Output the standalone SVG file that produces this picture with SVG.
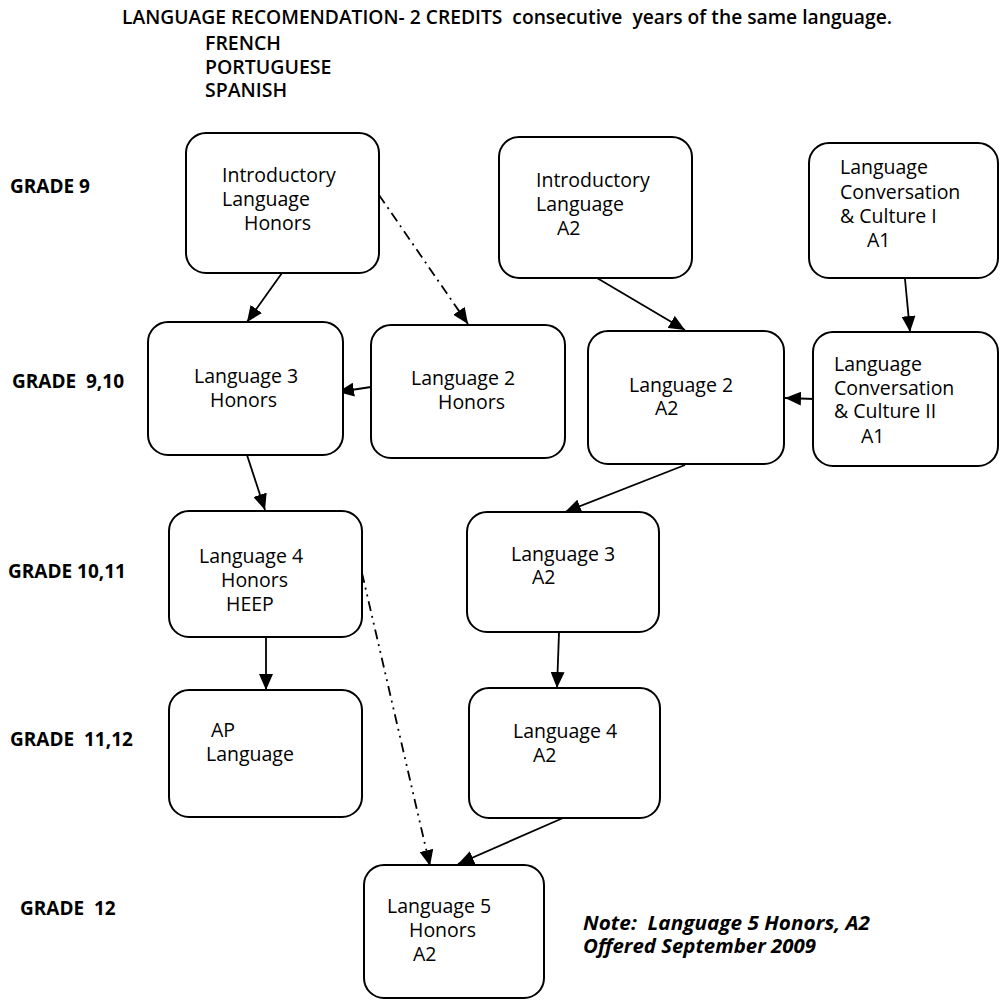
<svg xmlns="http://www.w3.org/2000/svg" width="1000" height="1000" viewBox="0 0 1000 1000">
<style>
.box{fill:#fff;stroke:#000;stroke-width:2}
.t{font-family:"Open Sans","DejaVu Sans",sans-serif;font-size:19.5px;fill:#000}
.g{font-family:"Open Sans","DejaVu Sans",sans-serif;font-size:19px;font-weight:700;fill:#000}
.h{font-family:"Open Sans","DejaVu Sans",sans-serif;font-size:19.5px;font-weight:600;fill:#000}
.n{font-family:"Open Sans","DejaVu Sans",sans-serif;font-size:19.5px;font-weight:700;font-style:italic;fill:#000}
.c{fill:none;stroke:#000;stroke-width:1.8}
.dd{stroke-dasharray:10,5,2,5}
.ddd{stroke-dasharray:10,5,2,5,2,5}
</style>
<defs>
<marker id="arr" markerUnits="userSpaceOnUse" markerWidth="16" markerHeight="14" refX="16" refY="7" orient="auto">
<path d="M0,0 L16,7 L0,14 z" fill="#000"/>
</marker>
</defs>
<rect width="1000" height="1000" fill="#fff"/>
<g id="header">
<text class="h" x="122" y="24" textLength="770" lengthAdjust="spacingAndGlyphs" xml:space="preserve">LANGUAGE RECOMENDATION- 2 CREDITS  consecutive  years of the same language.</text>
<text class="h" x="205" y="50">FRENCH</text>
<text class="h" x="205" y="74">PORTUGUESE</text>
<text class="h" x="205" y="97">SPANISH</text>
</g>
<g id="grades">
<text class="g" x="10" y="193">GRADE 9</text>
<text class="g" x="12" y="388" xml:space="preserve">GRADE  9,10</text>
<text class="g" x="8" y="578">GRADE 10,11</text>
<text class="g" x="10" y="746" xml:space="preserve">GRADE  11,12</text>
<text class="g" x="20" y="915" xml:space="preserve">GRADE  12</text>
</g>
<g id="connectors">
<line class="c" x1="282" y1="273" x2="247" y2="322" marker-end="url(#arr)"/>
<line class="c dd" x1="379" y1="195" x2="468" y2="324" marker-end="url(#arr)"/>
<line class="c" x1="371" y1="387" x2="338" y2="392" marker-end="url(#arr)"/>
<line class="c" x1="597" y1="278" x2="685" y2="330" marker-end="url(#arr)"/>
<line class="c" x1="905" y1="279" x2="910" y2="332" marker-end="url(#arr)"/>
<line class="c" x1="815" y1="399" x2="785" y2="398" marker-end="url(#arr)"/>
<line class="c" x1="685" y1="465" x2="565" y2="512" marker-end="url(#arr)"/>
<line class="c" x1="247" y1="455" x2="265" y2="510" marker-end="url(#arr)"/>
<line class="c" x1="266" y1="637" x2="266" y2="690" marker-end="url(#arr)"/>
<line class="c ddd" x1="362" y1="573" x2="430" y2="866" marker-end="url(#arr)"/>
<line class="c" x1="559" y1="633" x2="557" y2="688" marker-end="url(#arr)"/>
<line class="c" x1="563" y1="818" x2="458" y2="864" marker-end="url(#arr)"/>
</g>
<g id="intro-honors">
<rect class="box" x="186" y="133" width="193" height="140" rx="20"/>
<text class="t" x="222" y="182">Introductory</text>
<text class="t" x="222" y="206">Language</text>
<text class="t" x="244" y="230">Honors</text>
</g>
<g id="lang3-honors">
<rect class="box" x="148" y="322" width="195" height="133" rx="20"/>
<text class="t" x="194" y="383">Language 3</text>
<text class="t" x="210" y="407">Honors</text>
</g>
<g id="lang2-honors">
<rect class="box" x="371" y="325" width="194" height="133" rx="20"/>
<text class="t" x="411" y="385">Language 2</text>
<text class="t" x="438" y="409">Honors</text>
</g>
<g id="intro-a2">
<rect class="box" x="499" y="137" width="193" height="141" rx="20"/>
<text class="t" x="536" y="187">Introductory</text>
<text class="t" x="536" y="211">Language</text>
<text class="t" x="557" y="235">A2</text>
</g>
<g id="lcc1">
<rect class="box" x="809" y="143" width="189" height="135" rx="20"/>
<text class="t" x="840" y="174">Language</text>
<text class="t" x="840" y="199">Conversation</text>
<text class="t" x="840" y="223">&amp; Culture I</text>
<text class="t" x="867" y="247">A1</text>
</g>
<g id="lang2-a2">
<rect class="box" x="588" y="331" width="196" height="133" rx="20"/>
<text class="t" x="629" y="392">Language 2</text>
<text class="t" x="655" y="415">A2</text>
</g>
<g id="lcc2">
<rect class="box" x="813" y="332" width="185" height="134" rx="20"/>
<text class="t" x="834" y="371">Language</text>
<text class="t" x="834" y="395">Conversation</text>
<text class="t" x="834" y="418">&amp; Culture II</text>
<text class="t" x="861" y="443">A1</text>
</g>
<g id="lang4-honors">
<rect class="box" x="169" y="511" width="193" height="126" rx="20"/>
<text class="t" x="199" y="563">Language 4</text>
<text class="t" x="221" y="587">Honors</text>
<text class="t" x="226" y="611">HEEP</text>
</g>
<g id="lang3-a2">
<rect class="box" x="467" y="512" width="192" height="120" rx="20"/>
<text class="t" x="511" y="561">Language 3</text>
<text class="t" x="532" y="584">A2</text>
</g>
<g id="ap-language">
<rect class="box" x="169" y="690" width="193" height="127" rx="20"/>
<text class="t" x="211" y="737">AP</text>
<text class="t" x="206" y="761">Language</text>
</g>
<g id="lang4-a2">
<rect class="box" x="469" y="688" width="191" height="130" rx="20"/>
<text class="t" x="513" y="738">Language 4</text>
<text class="t" x="533" y="762">A2</text>
</g>
<g id="lang5">
<rect class="box" x="364" y="865" width="180" height="133" rx="20"/>
<text class="t" x="387" y="913">Language 5</text>
<text class="t" x="409" y="937">Honors</text>
<text class="t" x="413" y="961">A2</text>
</g>
<g id="note">
<text class="n" x="583" y="930" textLength="287" lengthAdjust="spacingAndGlyphs" xml:space="preserve">Note:  Language 5 Honors, A2</text>
<text class="n" x="583" y="953" textLength="233" lengthAdjust="spacingAndGlyphs">Offered September 2009</text>
</g>
</svg>
